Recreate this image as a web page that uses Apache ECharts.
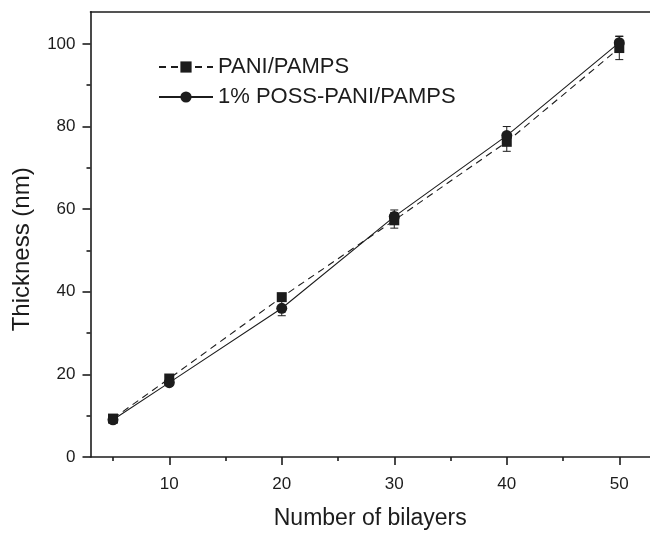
<!DOCTYPE html>
<html>
<head>
<meta charset="utf-8">
<script src="https://cdn.jsdelivr.net/npm/echarts@6/dist/echarts.min.js"></script>
<style>
  html, body { margin: 0; padding: 0; background: #fff; }
  #chart { width: 650px; height: 535px; }
</style>
</head>
<body>
<div id="chart"></div>
<script>
// Film thickness versus number of deposited bilayers
const bilayers = [5, 10, 20, 30, 40, 50];
const paniPamps = [9.3, 19.0, 38.7, 57.3, 76.3, 99.0];
const paniPampsErr = [0.8, 0.8, 0.8, 1.9, 2.3, 2.8];
const possPaniPamps = [9.0, 18.0, 36.0, 58.2, 77.8, 100.3];
const possPaniPampsErr = [0.8, 0.7, 1.8, 1.6, 2.2, 1.6];

const xMajorTicks = [10, 20, 30, 40, 50];
const xMinorTicks = [5, 15, 25, 35, 45];
const yMajorTicks = [0, 20, 40, 60, 80, 100];
const yMinorTicks = [10, 30, 50, 70, 90];

const seriesNames = ['PANI/PAMPS', '1% POSS-PANI/PAMPS'];

const INK = '#1c1c1c';
const FONT = '"Liberation Sans", Arial, Helvetica, sans-serif';
const X_MIN = 3, X_MAX = 52.73, Y_MIN = 0, Y_MAX = 107.8;

function pairs(xs, ys) { return xs.map((x, i) => [x, ys[i]]); }
function errTriples(xs, ys, es) { return xs.map((x, i) => [x, ys[i], es[i]]); }

// vertical error bar with short caps
function errorBarItem(params, api) {
  const x = api.value(0), y = api.value(1), e = api.value(2);
  const top = api.coord([x, y + e]);
  const bot = api.coord([x, y - e]);
  const half = 4;
  const style = { stroke: INK, lineWidth: 1 };
  return {
    type: 'group',
    children: [
      { type: 'line', shape: { x1: top[0], y1: top[1], x2: bot[0], y2: bot[1] }, style },
      { type: 'line', shape: { x1: top[0] - half, y1: top[1], x2: top[0] + half, y2: top[1] }, style },
      { type: 'line', shape: { x1: bot[0] - half, y1: bot[1], x2: bot[0] + half, y2: bot[1] }, style }
    ]
  };
}

const baseX = { type: 'value', min: X_MIN, max: X_MAX, splitLine: { show: false } };
const baseY = { type: 'value', min: Y_MIN, max: Y_MAX, splitLine: { show: false } };

const legendText = { fontFamily: FONT, fontSize: 22, color: INK };

const option = {
  animation: false,
  backgroundColor: '#fff',
  grid: { left: 90.5, right: 0, top: 11.7, bottom: 69 },
  legend: [
    { data: [seriesNames[0]], left: 158, top: 56, padding: 0, itemWidth: 54, itemHeight: 14, textStyle: legendText },
    { data: [seriesNames[1]], left: 158, top: 86, padding: 0, itemWidth: 54, itemHeight: 14, textStyle: legendText }
  ],
  xAxis: [
    Object.assign({}, baseX, {
      position: 'bottom',
      name: 'Number of bilayers', nameLocation: 'middle', nameGap: 50,
      nameTextStyle: { fontFamily: FONT, fontSize: 23, color: INK },
      axisLine: { onZero: false, lineStyle: { color: INK, width: 1.6 } },
      axisTick: { show: true, inside: false, length: 8, customValues: xMajorTicks, lineStyle: { color: INK, width: 1.6 } },
      axisLabel: { customValues: xMajorTicks, margin: 19, fontFamily: FONT, fontSize: 17, color: INK }
    }),
    Object.assign({}, baseX, {
      position: 'bottom',
      axisLine: { show: false },
      axisTick: { show: true, inside: false, length: 4, customValues: xMinorTicks, lineStyle: { color: INK, width: 1.6 } },
      axisLabel: { show: false }
    }),
    Object.assign({}, baseX, {
      position: 'top',
      axisLine: { onZero: false, lineStyle: { color: INK, width: 1.6 } },
      axisTick: { show: false },
      axisLabel: { show: false }
    })
  ],
  yAxis: [
    Object.assign({}, baseY, {
      position: 'left',
      name: 'Thickness (nm)', nameLocation: 'middle', nameGap: 56,
      nameTextStyle: { fontFamily: FONT, fontSize: 24, color: INK, padding: [0, 30, 0, 0] },
      axisLine: { onZero: false, lineStyle: { color: INK, width: 1.6 } },
      axisTick: { show: true, inside: false, length: 8, customValues: yMajorTicks, lineStyle: { color: INK, width: 1.6 } },
      axisLabel: { customValues: yMajorTicks, margin: 15, fontFamily: FONT, fontSize: 17, color: INK }
    }),
    Object.assign({}, baseY, {
      position: 'left',
      axisLine: { show: false },
      axisTick: { show: true, inside: false, length: 4, customValues: yMinorTicks, lineStyle: { color: INK, width: 1.6 } },
      axisLabel: { show: false }
    })
  ],
  series: [
    {
      name: 'PANI/PAMPS error', type: 'custom', xAxisIndex: 0, yAxisIndex: 0,
      renderItem: errorBarItem, data: errTriples(bilayers, paniPamps, paniPampsErr), z: 1
    },
    {
      name: '1% POSS-PANI/PAMPS error', type: 'custom', xAxisIndex: 0, yAxisIndex: 0,
      renderItem: errorBarItem, data: errTriples(bilayers, possPaniPamps, possPaniPampsErr), z: 1
    },
    {
      name: seriesNames[0], type: 'line', xAxisIndex: 0, yAxisIndex: 0,
      data: pairs(bilayers, paniPamps),
      symbol: 'rect', symbolSize: 10,
      lineStyle: { color: INK, width: 1.1, type: [7, 5] },
      itemStyle: { color: INK, borderWidth: 0 },
      z: 3
    },
    {
      name: seriesNames[1], type: 'line', xAxisIndex: 0, yAxisIndex: 0,
      data: pairs(bilayers, possPaniPamps),
      symbol: 'circle', symbolSize: 11,
      lineStyle: { color: INK, width: 1.1, type: 'solid' },
      itemStyle: { color: INK, borderWidth: 0 },
      z: 4
    }
  ]
};

const chart = echarts.init(document.getElementById('chart'), null, { renderer: 'canvas' });
chart.setOption(option);
</script>
</body>
</html>
